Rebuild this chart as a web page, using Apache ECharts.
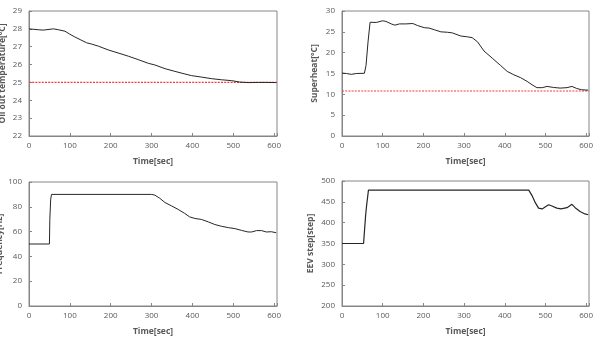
<!DOCTYPE html>
<html>
<head>
<meta charset="utf-8">
<script src="https://cdn.jsdelivr.net/npm/echarts@6/dist/echarts.min.js"></script>
<style>
  html, body { margin: 0; padding: 0; background: #fff; }
  #chart { width: 593px; height: 344px; }
</style>
</head>
<body>
<div id="chart"></div>
<script>
// 时间刻度
const timeTicks = [0, 100, 200, 300, 400, 500, 600];
const timeMax = 607;

// Oil out temperature
const oilTime = [0, 23, 35, 60, 72, 88, 100, 112, 125, 141, 153, 170, 194, 218, 243, 267, 292, 308, 333, 357, 382, 398, 422, 447, 471, 496, 516, 536, 561, 585, 605];
const oilTemp = [28.0, 27.95, 27.93, 28.0, 27.95, 27.87, 27.7, 27.55, 27.4, 27.22, 27.15, 27.03, 26.82, 26.65, 26.47, 26.28, 26.07, 25.98, 25.77, 25.62, 25.47, 25.38, 25.3, 25.21, 25.15, 25.1, 25.02, 24.99, 25.0, 25.0, 24.99];
const oilTarget = 25;

// Superheat
const shTime = [0, 11, 23, 35, 55, 59, 64, 69, 72, 84, 100, 108, 121, 130, 141, 157, 174, 186, 202, 214, 227, 243, 259, 271, 292, 308, 320, 333, 349, 369, 390, 406, 422, 439, 455, 467, 479, 492, 504, 520, 536, 553, 565, 577, 589, 605];
const shValue = [15.1, 15.0, 14.8, 15.0, 15.05, 16.9, 22.6, 27.3, 27.2, 27.25, 27.65, 27.5, 26.9, 26.6, 26.9, 26.9, 27.0, 26.5, 26.0, 25.9, 25.5, 25.0, 24.9, 24.75, 24.0, 23.8, 23.6, 22.6, 20.4, 18.7, 16.9, 15.5, 14.7, 14.0, 13.1, 12.3, 11.6, 11.6, 11.9, 11.65, 11.5, 11.6, 11.9, 11.4, 11.1, 11.0];
const shTarget = 10.8;

// Frequency
const freqTime = [0, 50, 51, 53, 55, 300, 308, 320, 333, 349, 365, 381, 393, 406, 422, 439, 455, 471, 488, 504, 520, 536, 545, 557, 569, 581, 593, 605];
const freqValue = [50, 50, 70, 85.6, 90, 90, 89.4, 86.9, 83.4, 80.7, 77.9, 74.7, 71.9, 70.6, 69.8, 67.8, 65.7, 64.3, 63.2, 62.4, 61.0, 59.7, 59.7, 60.8, 60.8, 59.7, 59.9, 59.1];

// EEV step
const eevTime = [0, 53, 58, 60, 65, 459, 467, 475, 483, 492, 500, 508, 516, 528, 538, 553, 565, 573, 585, 597, 605];
const eevValue = [350, 350, 417, 437, 478, 478, 465, 448, 435, 433, 438, 443, 440, 435, 433, 436, 444, 436, 427, 421, 419];

const zip = (xs, ys) => xs.map((x, i) => [x, ys[i]]);

const txt = { color: '#595959', fontSize: 8, fontFamily: 'Open Sans' };
const frameColor = '#868686';

const grids = [
    { left: 29, top: 11, width: 248, height: 125 },
    { left: 342, top: 11, width: 247, height: 125 },
    { left: 29, top: 182, width: 248, height: 124 },
    { left: 342, top: 181, width: 247, height: 125 }
];

const yDefs = [
    { name: 'Oil out temperature[°C]', min: 22, max: 29, interval: 1, gap: 22 },
    { name: 'Superheat[°C]', min: 0, max: 30, interval: 5, gap: 23 },
    { name: 'Frequency[Hz]', min: 0, max: 100, interval: 20, gap: 25 },
    { name: 'EEV step[step]', min: 200, max: 500, interval: 50, gap: 27 }
];

// 目标线（红色点线）
function targetSeries(idx, value) {
    return {
        type: 'line', xAxisIndex: idx, yAxisIndex: idx,
        data: [[0, value], [timeMax, value]],
        showSymbol: false, silent: true, z: 1,
        lineStyle: { color: '#f03c3c', type: [2, 1.2], width: 1.2 }
    };
}

function initChart() {
    const chart = echarts.init(document.getElementById('chart'));
    chart.setOption({
        animation: false,
        backgroundColor: '#fff',
        grid: grids.map(g => Object.assign({
            show: true, borderColor: frameColor, borderWidth: 1,
            containLabel: false, outerBoundsMode: 'none'
        }, g)),
        xAxis: grids.map((g, i) => ({
            type: 'value',
            gridIndex: i,
            min: 0,
            max: timeMax,
            interval: 100,
            name: 'Time[sec]',
            nameLocation: 'middle',
            nameGap: 21,
            nameTextStyle: Object.assign({}, txt, { fontWeight: 'bold', fontSize: 8.5 }),
            axisLine: { lineStyle: { color: frameColor } },
            axisTick: { inside: true, length: 3, lineStyle: { color: frameColor } },
            axisLabel: Object.assign({}, txt, {
                margin: 6,
                formatter: v => timeTicks.includes(v) ? String(v) : ''
            }),
            splitLine: { show: false }
        })),
        yAxis: yDefs.map((d, i) => ({
            type: 'value',
            gridIndex: i,
            min: d.min,
            max: d.max,
            interval: d.interval,
            name: d.name,
            nameLocation: 'middle',
            nameGap: d.gap,
            nameTextStyle: Object.assign({}, txt, { fontWeight: 'bold', fontSize: 8.5 }),
            axisLine: { show: true, lineStyle: { color: frameColor } },
            axisTick: { show: true, inside: true, length: 3, lineStyle: { color: frameColor } },
            axisLabel: Object.assign({}, txt, { margin: 7 }),
            splitLine: { show: false }
        })),
        series: [
            targetSeries(0, oilTarget),
            targetSeries(1, shTarget),
            {
                type: 'line', xAxisIndex: 0, yAxisIndex: 0, data: zip(oilTime, oilTemp),
                showSymbol: false, lineStyle: { color: '#262626', width: 1 }
            },
            {
                type: 'line', xAxisIndex: 1, yAxisIndex: 1, data: zip(shTime, shValue),
                showSymbol: false, lineStyle: { color: '#262626', width: 1 }
            },
            {
                type: 'line', xAxisIndex: 2, yAxisIndex: 2, data: zip(freqTime, freqValue),
                showSymbol: false, lineStyle: { color: '#262626', width: 1 }
            },
            {
                type: 'line', xAxisIndex: 3, yAxisIndex: 3, data: zip(eevTime, eevValue),
                showSymbol: false, lineStyle: { color: '#262626', width: 1.2 }
            }
        ]
    });
}

initChart();
</script>
</body>
</html>
